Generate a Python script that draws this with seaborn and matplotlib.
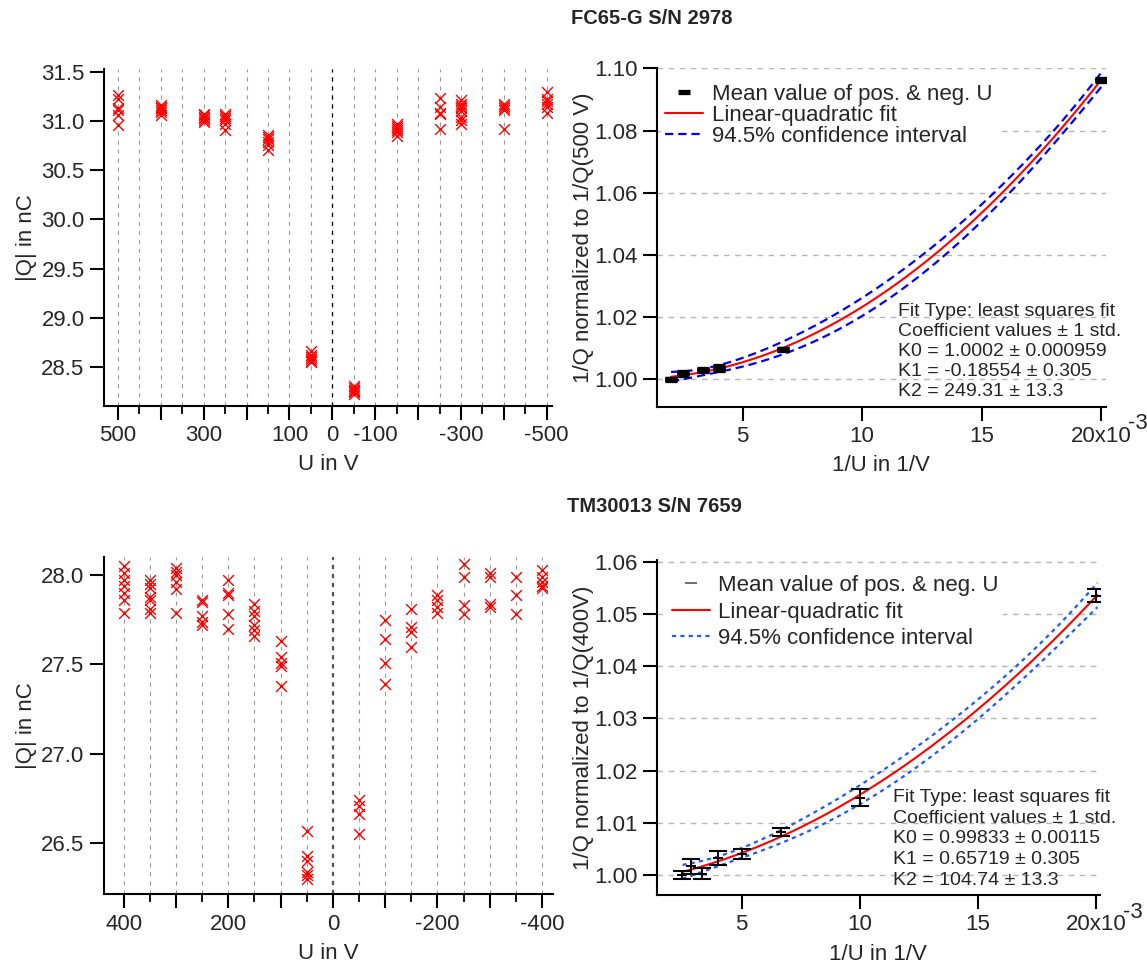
import numpy as np
import pandas as pd
import matplotlib
matplotlib.use("Agg")
import matplotlib.pyplot as plt
import seaborn as sns
from matplotlib.lines import Line2D
from matplotlib.ticker import FixedLocator, FixedFormatter, FormatStrFormatter

# ---------------------------------------------------------------- data
# FC65-G S/N 2978: repeated charge readings |Q| (nC) per bias voltage U (V)
fc65_voltages = [500, 400, 300, 250, 150, 50, -50, -150, -250, -300, -400, -500]
fc65_charges = [
    [31.26, 31.22, 31.13, 31.11, 31.06, 30.96],
    [31.16, 31.14, 31.13, 31.11, 31.09, 31.06],
    [31.07, 31.06, 31.04, 31.03, 31.01, 30.99],
    [31.07, 31.05, 31.03, 31.01, 30.97, 30.91],
    [30.86, 30.84, 30.82, 30.79, 30.76, 30.70],
    [28.66, 28.62, 28.60, 28.58, 28.56, 28.55],
    [28.31, 28.29, 28.27, 28.26, 28.25, 28.23],
    [30.97, 30.95, 30.93, 30.91, 30.89, 30.85],
    [31.23, 31.14, 31.08, 31.07, 30.92],
    [31.21, 31.17, 31.15, 31.13, 31.10, 31.04, 31.01, 30.97],
    [31.17, 31.15, 31.13, 31.11, 30.92],
    [31.29, 31.22, 31.20, 31.17, 31.14, 31.08],
]
# mean of positive and negative polarity, 1/Q normalised to 1/Q(500 V)
fc65_abs_u = [500, 400, 300, 250, 150, 50]
fc65_norm = [1.0000, 1.0019, 1.0030, 1.0037, 1.0097, 1.0962]
fc65_err = [0.0002, 0.0004, 0.0002, 0.0007, 0.0002, 0.0002]
fc65_coef = [1.0002, -0.18554, 249.31]
fc65_std = [0.000959, 0.305, 13.3]

# TM30013 S/N 7659
tm_voltages = [400, 350, 300, 250, 200, 150, 100, 50,
               -50, -100, -150, -200, -250, -300, -350, -400]
tm_charges = [
    [28.05, 28.01, 27.97, 27.94, 27.90, 27.86, 27.79],
    [27.97, 27.95, 27.93, 27.88, 27.86, 27.81, 27.79],
    [28.04, 28.02, 28.00, 27.96, 27.92, 27.79],
    [27.86, 27.85, 27.77, 27.74, 27.72],
    [27.97, 27.90, 27.89, 27.78, 27.70],
    [27.84, 27.80, 27.77, 27.72, 27.69, 27.66],
    [27.63, 27.54, 27.51, 27.49, 27.38],
    [26.57, 26.43, 26.40, 26.34, 26.32, 26.30],
    [26.74, 26.71, 26.66, 26.55],
    [27.75, 27.64, 27.51, 27.39],
    [27.81, 27.71, 27.68, 27.60],
    [27.89, 27.86, 27.82, 27.79],
    [28.06, 27.99, 27.83, 27.78],
    [28.01, 27.99, 27.84, 27.82],
    [27.99, 27.89, 27.78],
    [28.03, 27.99, 27.96, 27.94, 27.93],
]
tm_abs_u = [400, 350, 300, 250, 200, 150, 100, 50]
tm_norm = [1.0000, 1.0017, 1.0003, 1.0033, 1.0040, 1.0083, 1.0148, 1.0535]
tm_err = [0.0008, 0.0014, 0.0011, 0.0014, 0.0010, 0.0008, 0.0016, 0.0013]
tm_coef = [0.99833, 0.65719, 104.74]
tm_std = [0.00115, 0.305, 13.3]

legend_labels = ["Mean value of pos. & neg. U", "Linear-quadratic fit",
                 "94.5% confidence interval"]

# ---------------------------------------------------------------- style
sns.set_style("ticks")
plt.rcParams["font.family"] = ["Liberation Sans", "DejaVu Sans"]
plt.rcParams["axes.unicode_minus"] = False
plt.rcParams["lines.scale_dashes"] = False

W, H = 1147, 969
fig = plt.figure(figsize=(W / 100, H / 100), dpi=100)


def add_axes_px(left, top, right, bottom):
    return fig.add_axes([left / W, 1 - bottom / H, (right - left) / W, (bottom - top) / H])


def style_axes(ax):
    for side in ("top", "right"):
        ax.spines[side].set_visible(False)
    for side in ("left", "bottom"):
        ax.spines[side].set_linewidth(1.5)
        ax.spines[side].set_color("black")
    ax.tick_params(which="major", direction="out", length=10, width=1.5,
                   labelsize=16, pad=4, color="black")
    ax.tick_params(which="minor", direction="out", length=6, width=1.3, color="black")


def charge_panel(ax, volts, charges, xlim, ylim, yticks, labelled, zero_color, zero_lw):
    counts = [len(c) for c in charges]
    df = pd.DataFrame({"U": np.repeat(volts, counts), "Q": np.concatenate(charges)})
    style_axes(ax)
    ax.set_xlim(*xlim)
    ax.set_ylim(*ylim)
    major = np.arange(-500, 501, 100)
    ax.xaxis.set_major_locator(FixedLocator(major))
    ax.xaxis.set_major_formatter(FixedFormatter(
        [str(v) if v in labelled else "" for v in major]))
    ax.xaxis.set_minor_locator(FixedLocator(np.arange(-450, 451, 100)))
    ax.yaxis.set_major_locator(FixedLocator(yticks))
    ax.yaxis.set_major_formatter(FormatStrFormatter("%.1f"))
    ax.xaxis.grid(True, which="both", color="#9a9a9a", lw=0.8, ls=(0, (3, 3.5)))
    ax.axvline(0, color=zero_color, lw=zero_lw, ls=(0, (3, 3.5)), zorder=1.5)
    sns.scatterplot(data=df, x="U", y="Q", marker="x", color="red", s=60,
                    linewidth=1.0, ax=ax, zorder=3, legend=False)
    ax.set_xlabel("U in V", fontsize=16, labelpad=6)
    ax.set_ylabel("|Q| in nC", fontsize=16, labelpad=3)


def fit_band(inv_u, coef, std, xs, t_factor):
    # coefficient correlations from the design matrix of the fitted points,
    # scaled by the quoted standard deviations
    X = np.vstack([np.ones_like(inv_u), inv_u, inv_u ** 2]).T
    cov = np.linalg.inv(X.T @ X)
    rho = cov / np.sqrt(np.outer(np.diag(cov), np.diag(cov)))
    C = np.outer(std, std) * rho
    J = np.vstack([np.ones_like(xs), xs, xs ** 2]).T
    sd = np.sqrt(np.einsum("ij,jk,ik->i", J, C, J))
    fit = coef[0] + coef[1] * xs + coef[2] * xs ** 2
    return fit, fit - t_factor * sd, fit + t_factor * sd


def fit_panel(ax, abs_u, norm, err, coef, std, t_factor, xlim, ylim, yticks, ylabel,
              band_color, band_ls, thick_marker, legend_spacing, legend_anchor,
              note_xy, note_spacing, note_text):
    inv_u = 1.0 / np.asarray(abs_u, dtype=float)
    style_axes(ax)
    ax.set_xlim(*xlim)
    ax.set_ylim(*ylim)
    ax.xaxis.set_major_locator(FixedLocator([5e-3, 10e-3, 15e-3, 20e-3]))
    ax.xaxis.set_major_formatter(FixedFormatter(["5", "10", "15", "20x10"]))
    ax.yaxis.set_major_locator(FixedLocator(yticks))
    ax.yaxis.set_major_formatter(FormatStrFormatter("%.2f"))
    ax.yaxis.grid(True, color="#b5b5b5", lw=1.0, ls=(0, (4, 4)))
    ax.annotate("-3", xy=(20e-3, 0), xycoords=("data", "axes fraction"),
                xytext=(27, -17), textcoords="offset pixels",
                ha="left", va="center", fontsize=16)

    xs = np.linspace(inv_u.min(), 20.05e-3, 300)
    fit, lo, hi = fit_band(inv_u, coef, std, xs, t_factor)
    sns.lineplot(x=xs, y=fit, ax=ax, color="red", lw=1.5, zorder=3,
                 sort=False, estimator=None)
    for band in (lo, hi):
        sns.lineplot(x=xs, y=band, ax=ax, color=band_color, lw=1.6,
                     linestyle=band_ls, zorder=3, sort=False, estimator=None)

    if thick_marker:
        ax.errorbar(inv_u, norm, yerr=err, fmt="_", color="black", ms=8, mew=3.8,
                    elinewidth=1.2, capsize=4, capthick=1.2, zorder=4)
        mean_handle = Line2D([], [], color="black", marker="_", ls="none", ms=8, mew=3.8)
    else:
        ax.errorbar(inv_u, norm, yerr=err, fmt="_", color="black", ms=7, mew=1.5,
                    elinewidth=1.4, capsize=6.5, capthick=1.5, zorder=4)
        mean_handle = Line2D([], [], color="#555555", marker="_", ls="none", ms=8, mew=1.2)

    handles = [mean_handle,
               Line2D([], [], color="red", lw=1.5),
               Line2D([], [], color=band_color, lw=1.6, ls=band_ls)]
    leg = ax.legend(handles, legend_labels, loc="upper left", bbox_to_anchor=legend_anchor,
                    fontsize=16, frameon=True, fancybox=False, framealpha=1,
                    facecolor="white", edgecolor="none", borderpad=0.2,
                    handlelength=1.7, handletextpad=0.4, labelspacing=legend_spacing,
                    borderaxespad=0)
    leg.set_zorder(5)
    ax.text(note_xy[0], note_xy[1], note_text, transform=ax.transAxes, fontsize=14,
            ha="left", va="top", linespacing=note_spacing, zorder=6)
    ax.set_xlabel("1/U in 1/V", fontsize=16, labelpad=6)
    ax.set_ylabel(ylabel, fontsize=16, labelpad=0)


# ---------------------------------------------------------------- top row
ax_tl = add_axes_px(104, 69, 551.7, 405.7)
charge_panel(ax_tl, fc65_voltages, fc65_charges, (532.7, -511.7), (28.107, 31.527),
             [28.5, 29.0, 29.5, 30.0, 30.5, 31.0, 31.5],
             {500, 300, 100, 0, -100, -300, -500}, "black", 0.9)

ax_tr = add_axes_px(656.7, 68.3, 1105.8, 406.7)
fit_panel(ax_tr, fc65_abs_u, fc65_norm, fc65_err, fc65_coef, fc65_std, 3.3,
          (1.40e-3, 20.2e-3), (0.9912, 1.10), [1.00, 1.02, 1.04, 1.06, 1.08, 1.10],
          "1/Q normalized to 1/Q(500 V)", "#0000ff", (0, (6, 3.5)), True, 0.0,
          (0.009, 0.968), (0.538, 0.306), 1.22,
          "Fit Type: least squares fit\nCoefficient values \u00b1 1 std.\n"
          "K0 = 1.0002 \u00b1 0.000959\nK1 = -0.18554 \u00b1 0.305\nK2 = 249.31 \u00b1 13.3")

# ---------------------------------------------------------------- bottom row
ax_bl = add_axes_px(104, 556.7, 552.7, 894.3)
charge_panel(ax_bl, tm_voltages, tm_charges, (437.7, -420.5), (26.213, 28.103),
             [26.5, 27.0, 27.5, 28.0], {400, 200, 0, -200, -400}, "#555555", 1.6)

ax_br = add_axes_px(656.7, 560, 1100, 895)
fit_panel(ax_br, tm_abs_u, tm_norm, tm_err, tm_coef, tm_std, 2.4,
          (1.41e-3, 20.16e-3), (0.9962, 1.0603), [1.00, 1.01, 1.02, 1.03, 1.04, 1.05, 1.06],
          "1/Q normalized to 1/Q(400V)", "#1f5cff", (0, (3, 3)), False, 0.25,
          (0.024, 0.968), (0.532, 0.316), 1.28,
          "Fit Type: least squares fit\nCoefficient values \u00b1 1 std.\n"
          "K0 = 0.99833 \u00b1 0.00115\nK1 = 0.65719 \u00b1 0.305\nK2 = 104.74 \u00b1 13.3")

# ---------------------------------------------------------------- titles
fig.text(652 / W, 1 - 18 / H, "FC65-G S/N 2978", ha="center", va="center",
         fontsize=14.5, fontweight="bold")
fig.text(654 / W, 1 - 507 / H, "TM30013 S/N 7659", ha="center", va="center",
         fontsize=14.5, fontweight="bold")

fig.savefig("out.png", dpi=100)
